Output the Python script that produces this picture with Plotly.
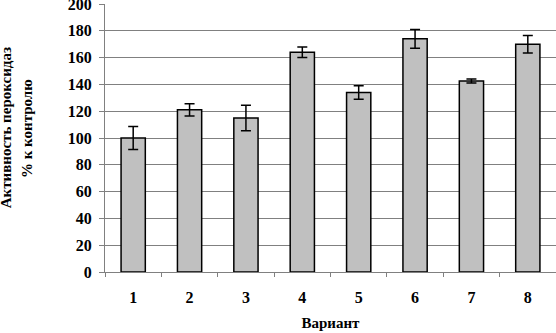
import plotly.graph_objects as go

categories = ["1", "2", "3", "4", "5", "6", "7", "8"]
values = [100, 121, 115, 164, 134, 174, 142.5, 170]
errors = [8.5, 4.5, 9.5, 4, 5, 7, 1.5, 6.5]
y_ticks = [0, 20, 40, 60, 80, 100, 120, 140, 160, 180, 200]

FONT = "Liberation Serif"

fig = go.Figure()
fig.add_trace(go.Bar(
    x=categories, y=values,
    marker=dict(color="#C0C0C0", line=dict(color="black", width=1.5)),
    error_y=dict(type="data", array=errors, visible=True,
                 color="black", thickness=1.5, width=5),
))

fig.update_layout(
    template="none",
    width=556, height=333,
    margin=dict(l=105, r=0, t=4, b=61),
    paper_bgcolor="white", plot_bgcolor="white",
    bargap=0.57,
    showlegend=False,
    font=dict(family=FONT, color="black"),
    xaxis=dict(
        type="category", range=[-0.5, 7.5], automargin=False,
        showline=True, linecolor="#808080", linewidth=1,
        ticks="outside", tickson="boundaries", ticklen=4, tickcolor="#808080",
        tickfont=dict(family=FONT, size=16, color="black", weight="bold"),
        ticklabelstandoff=11,
        showgrid=False,
        title=dict(text="<b>Вариант</b>", font=dict(family=FONT, size=15), standoff=12),
    ),
    yaxis=dict(
        range=[0, 200], tickvals=y_ticks, automargin=False,
        showline=True, linecolor="#808080", linewidth=1,
        ticks="outside", ticklen=5, tickcolor="#808080",
        showgrid=True, gridcolor="#808080", gridwidth=1,
        tickfont=dict(family=FONT, size=16, color="black", weight="bold"),
        ticklabelstandoff=4, ticklabeloverflow="allow",
        zeroline=False,
    ),
)

fig.add_annotation(text="<b>Активность пероксидаз</b>", textangle=-90,
                   xref="paper", yref="paper", x=-0.219, y=0.537,
                   xanchor="center", yanchor="middle",
                   showarrow=False, font=dict(family=FONT, size=15, color="black"))
fig.add_annotation(text="<b>% к контролю</b>", textangle=-90,
                   xref="paper", yref="paper", x=-0.173, y=0.537,
                   xanchor="center", yanchor="middle",
                   showarrow=False, font=dict(family=FONT, size=15, color="black"))

fig.write_html("out.html", config={"displayModeBar": False},
               post_script="document.body.style.margin='0';document.body.style.overflow='hidden';")
